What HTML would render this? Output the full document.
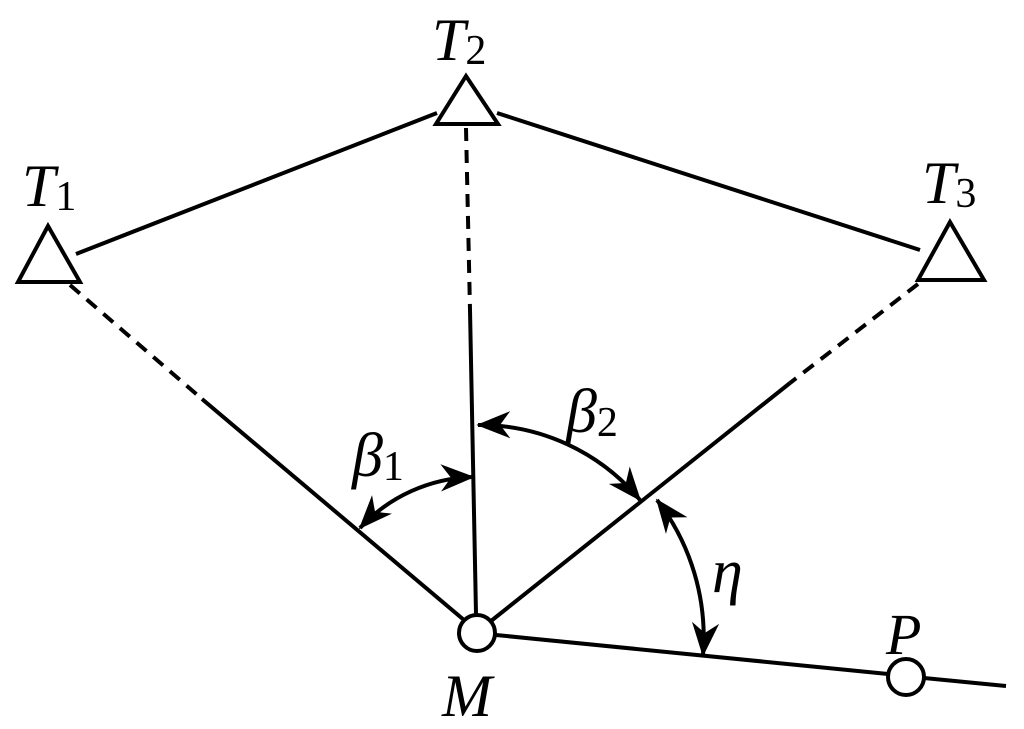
<!DOCTYPE html>
<html><head><style>
html,body{margin:0;padding:0;background:#fff;}
svg{display:block;}
text{font-family:"Liberation Serif","Times New Roman",serif;font-style:italic;fill:#000;}
.sub{font-style:normal;}
</style></head><body>
<svg width="1024" height="729" viewBox="0 0 1024 729" xmlns="http://www.w3.org/2000/svg">
<defs>
<marker id="b" viewBox="0 0 10 10" refX="9.5" refY="5" markerWidth="34" markerHeight="34" markerUnits="userSpaceOnUse" orient="auto-start-reverse">
<path d="M0,1 L10,5 L0,9 L3,5 z" fill="#000"/>
</marker>
</defs>
<g stroke="#000" stroke-width="4" fill="none">
<line x1="76" y1="254" x2="437" y2="113"/>
<line x1="497" y1="113" x2="920" y2="250"/>
<line x1="70" y1="285" x2="202" y2="399" stroke-dasharray="13,9"/>
<line x1="202" y1="399" x2="464" y2="620"/>
<line x1="466" y1="128" x2="470" y2="310" stroke-dasharray="13,9"/>
<line x1="470" y1="310" x2="476" y2="614"/>
<line x1="918" y1="284" x2="790" y2="383" stroke-dasharray="13,9"/>
<line x1="790" y1="383" x2="491" y2="621"/>
<line x1="496" y1="635" x2="888" y2="674"/>
<line x1="924" y1="678" x2="1006" y2="686"/>
<path d="M360,528 A160,160 0 0 1 473,477" marker-start="url(#b)" marker-end="url(#b)"/>
<path d="M478,425 A209,209 0 0 1 640,500" marker-start="url(#b)" marker-end="url(#b)"/>
<path d="M657,500 A225,225 0 0 1 703,655" marker-start="url(#b)" marker-end="url(#b)"/>
</g>
<g stroke="#000" stroke-width="4" fill="#fff">
<polygon points="48,226 18,282 80,282"/>
<polygon points="466,76 436,124 498,124"/>
<polygon points="950,222 918,280 984,280"/>
<circle cx="477" cy="633" r="18"/>
<circle cx="906" cy="677" r="18"/>
</g>
<text x="22" y="206" font-size="60">T<tspan class="sub" font-size="42" dy="4">1</tspan></text>
<text x="432" y="60" font-size="60">T<tspan class="sub" font-size="42" dy="4">2</tspan></text>
<text x="922" y="203" font-size="60">T<tspan class="sub" font-size="42" dy="4">3</tspan></text>
<text x="352" y="476" font-size="62">β<tspan class="sub" font-size="42" dy="4">1</tspan></text>
<text x="566" y="432" font-size="62">β<tspan class="sub" font-size="42" dy="4">2</tspan></text>
<text x="712" y="592" font-size="62">η</text>
<text x="442" y="716" font-size="60">M</text>
<text x="886" y="654" font-size="58">P</text>
</svg>
</body></html>
